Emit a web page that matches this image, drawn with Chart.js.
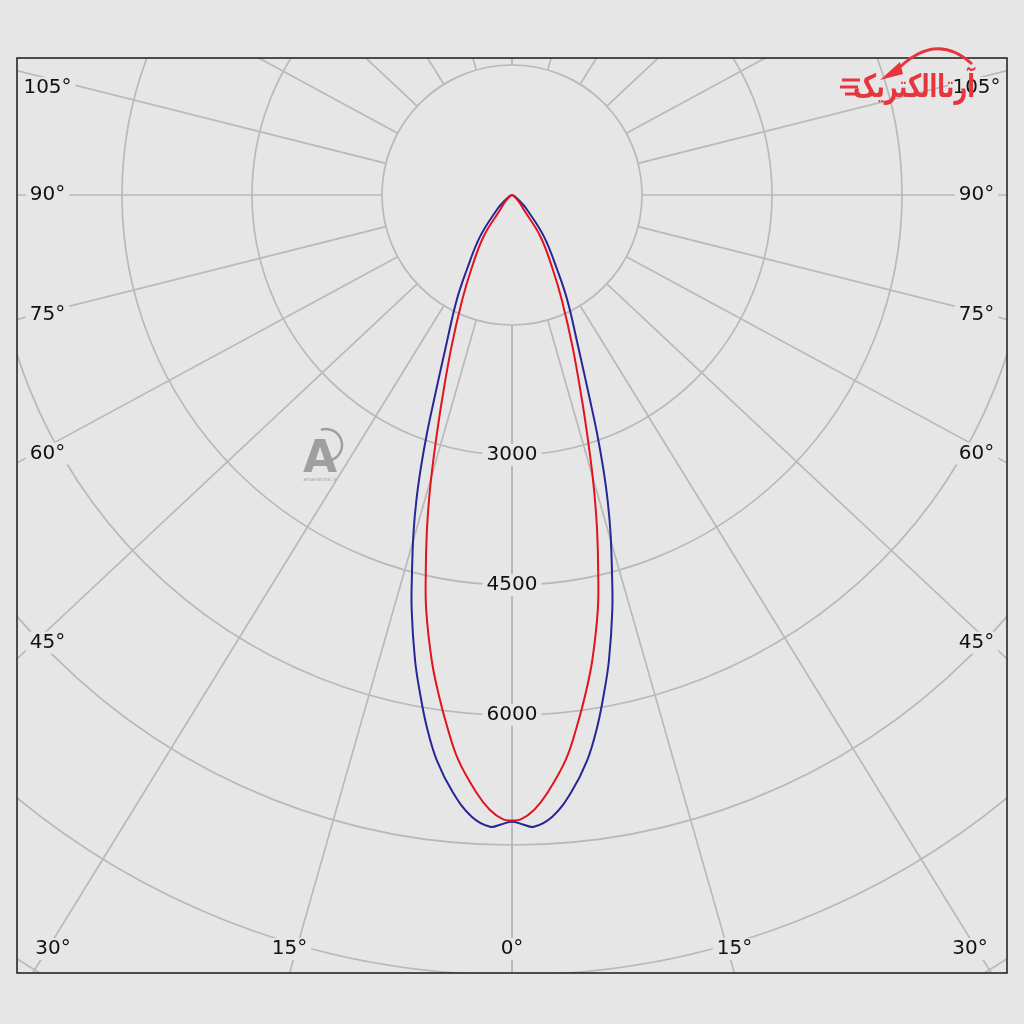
<!DOCTYPE html>
<html>
<head>
<meta charset="utf-8">
<script src="https://cdn.jsdelivr.net/npm/chart.js@4"></script>
<style>
  html, body { margin: 0; padding: 0; background: #e6e6e6; }
</style>
</head>
<body>
<canvas id="polar" width="1024" height="1024"></canvas>
<script>
// pontos: angulo a partir do nadir (graus) e intensidade (cd)
const angAzul = [0,1.0,1.99,3.71,5.61,7.59,9.11,10.47,11.78,13.59,14.82,16.25,17.40,18.51,19.65,20.83,23.57,27.77,31.13,37.50,45.57,50,60,70,90];
const cdAzul  = [7231,7264,7293,7188,6933,6577,6213,5843,5481,4926,4511,4062,3688,3306,2916,2531,1910,1369,1011,606,247,150,50,15,0];
const angVermelho = [0,0.80,2.05,3.38,5.43,6.95,8.42,9.80,11.68,12.85,14.15,15.22,16.31,17.49,18.85,21.75,25.38,28.66,34.35,38.66,45,55,70,90];
const cdVermelho  = [7217,7206,7100,6912,6548,6180,5808,5445,4890,4473,4022,3647,3266,2879,2499,1884,1341,986,583,222,120,40,5,0];

// grade
const aneis = [1500,3000,4500,6000,7500,9000,10500];
const aneisRotulo = [3000,4500,6000];
const raios = [0,15,30,45,60,75,90,105,120,135,150,165,180];
const raiosRotulo = [0,15,30,45,60,75,90,105];

const fundo = "#e6e6e6";
const corGrade = "#b9b9b9";
const cdPorPx = 1500 / 130;
const desvio = 1.067; // raios da grade levemente abertos na horizontal, como no original

// curva simetrica: lado esquerdo de 90 a 0, lado direito de 0 a 90
function pontos(ang, vals) {
  const pts = [];
  for (let i = ang.length - 1; i > 0; i--) {
    const t = ang[i] * Math.PI / 180;
    pts.push({ x: -vals[i] * Math.sin(t), y: -vals[i] * Math.cos(t) });
  }
  for (let i = 0; i < ang.length; i++) {
    const t = ang[i] * Math.PI / 180;
    pts.push({ x: vals[i] * Math.sin(t), y: -vals[i] * Math.cos(t) });
  }
  return pts;
}

function rotulo(ctx, txt, x, y) {
  ctx.font = '20px "DejaVu Sans"';
  const w = ctx.measureText(txt).width;
  ctx.fillStyle = fundo;
  ctx.fillRect(x - w / 2 - 4, y - 11, w + 8, 22);
  ctx.fillStyle = "#111";
  ctx.textAlign = "center";
  ctx.textBaseline = "middle";
  ctx.fillText(txt, x, y);
}

const grade = {
  id: "grade",
  beforeDraw(chart) {
    const { ctx, width, height } = chart;
    ctx.save();
    ctx.fillStyle = fundo;
    ctx.fillRect(0, 0, width, height);
    ctx.restore();
  },
  beforeDatasetsDraw(chart) {
    const { ctx, chartArea: a, scales: { x, y } } = chart;
    const cx = x.getPixelForValue(0), cy = y.getPixelForValue(0);
    const px = v => x.getPixelForValue(v) - cx;

    ctx.save();
    ctx.beginPath();
    ctx.rect(a.left, a.top, a.right - a.left, a.bottom - a.top);
    ctx.clip();
    ctx.strokeStyle = corGrade;
    ctx.lineWidth = 1.7;

    aneis.forEach(v => {
      ctx.beginPath();
      ctx.arc(cx, cy, px(v), 0, Math.PI * 2);
      ctx.stroke();
    });

    const r0 = px(aneis[0]);
    raios.forEach(g => {
      [-1, 1].forEach(s => {
        const t = g * Math.PI / 180;
        let ux = s * Math.sin(t) * desvio, uy = Math.cos(t);
        const n = Math.hypot(ux, uy);
        ux /= n; uy /= n;
        ctx.beginPath();
        ctx.moveTo(cx + ux * r0, cy + uy * r0);
        ctx.lineTo(cx + ux * 2000, cy + uy * 2000);
        ctx.stroke();
      });
    });

    aneisRotulo.forEach(v => rotulo(ctx, String(v), cx, cy + px(v)));

    raiosRotulo.forEach(g => {
      [-1, 1].forEach(s => {
        if (g === 0 && s === 1) return;
        const t = g * Math.PI / 180;
        const ux = Math.sin(t) * desvio, uy = Math.cos(t);
        const lado = s < 0 ? cx - a.left : a.right - cx;
        const baixo = a.bottom - cy;
        let lx, ly;
        if (ux > 0 && Math.abs(uy / ux) * lado < baixo) {
          lx = s < 0 ? a.left + 30.5 : a.right - 30.5;
          ly = Math.max(a.top + 30, cy + (uy / ux) * lado * 0.965);
        } else {
          const dx = uy > 0 ? (ux / uy) * baixo : 0;
          lx = Math.min(a.right - 37, Math.max(a.left + 36, cx + s * dx));
          ly = a.bottom - 24;
        }
        rotulo(ctx, g + "°", lx, ly);
      });
    });
    ctx.restore();
  },
  afterDraw(chart) {
    const { ctx, chartArea: a } = chart;
    ctx.save();
    ctx.strokeStyle = "#1a1a1a";
    ctx.lineWidth = 1.5;
    ctx.strokeRect(a.left, a.top, a.right - a.left, a.bottom - a.top);

    // marca d'agua
    ctx.fillStyle = "rgba(128,128,128,0.7)";
    ctx.font = 'bold 44px "DejaVu Sans"';
    ctx.textAlign = "center";
    ctx.textBaseline = "alphabetic";
    ctx.fillText("A", 320, 472);
    ctx.strokeStyle = "rgba(128,128,128,0.7)";
    ctx.lineWidth = 2.5;
    ctx.beginPath();
    ctx.arc(326, 445, 16, -1.9, 1.2);
    ctx.stroke();
    ctx.font = '5px "DejaVu Sans"';
    ctx.fillText("artaelectric.ir", 320, 481);

    // logo
    ctx.fillStyle = "#e8353d";
    ctx.strokeStyle = "#e8353d";
    ctx.font = 'bold 32px "DejaVu Sans"';
    ctx.textAlign = "right";
    ctx.fillText("آرتاالکتریک", 975, 97, 122);
    ctx.lineWidth = 3;
    ctx.beginPath();
    ctx.moveTo(895, 72);
    ctx.quadraticCurveTo(935, 30, 972, 64);
    ctx.stroke();
    ctx.beginPath();
    ctx.moveTo(880, 80); ctx.lineTo(900, 62); ctx.lineTo(903, 74);
    ctx.closePath();
    ctx.fill();
    ctx.lineWidth = 3;
    [[842, 80, 860], [840, 87, 858], [845, 94, 860]].forEach(l => {
      ctx.beginPath(); ctx.moveTo(l[0], l[1]); ctx.lineTo(l[2], l[1]); ctx.stroke();
    });
    ctx.restore();
  }
};

const esq = 17, dir = 17, topo = 58, base = 51;
const cxPx = 512, cyPx = 195;
const largura = 1024 - esq - dir;

new Chart(document.getElementById("polar"), {
  type: "line",
  data: {
    datasets: [
      { label: "C0-C180", data: pontos(angVermelho, cdVermelho), borderColor: "#e0141e", borderWidth: 2, pointRadius: 0, tension: 0.4, fill: false },
      { label: "C90-C270", data: pontos(angAzul, cdAzul), borderColor: "#262696", borderWidth: 2, pointRadius: 0, tension: 0.4, fill: false }
    ]
  },
  options: {
    responsive: false,
    animation: false,
    layout: { padding: { left: esq, right: dir, top: topo, bottom: base } },
    plugins: { legend: { display: false }, tooltip: { enabled: false } },
    scales: {
      x: { type: "linear", display: false, min: -(cxPx - esq) * cdPorPx, max: (largura - (cxPx - esq)) * cdPorPx },
      y: { type: "linear", display: false, min: -(1024 - base - cyPx) * cdPorPx, max: (cyPx - topo) * cdPorPx }
    }
  },
  plugins: [grade]
});
</script>
</body>
</html>
